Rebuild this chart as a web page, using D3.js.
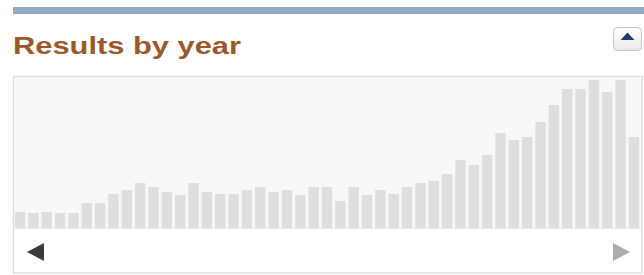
<!DOCTYPE html>
<html>
<head>
<meta charset="utf-8">
<script src="https://cdn.jsdelivr.net/npm/d3@7"></script>
<style>
  html, body { margin: 0; padding: 0; background: #fff; }
  svg { display: block; }
</style>
</head>
<body>
<svg id="chart" width="644" height="275"></svg>
<script>
// Data (years and number of results per year)
const years = d3.range(1971, 2018).map(String);
const counts = [16, 15, 16, 15, 15, 25, 25, 34, 38, 45, 41, 36, 33, 45, 36, 34, 34, 38, 41, 36,
                38, 33, 41, 41, 27, 41, 33, 38, 34, 41, 45, 47, 54, 68, 63, 73, 95, 88, 91, 106,
                123, 139, 139, 148, 136, 148, 91];
const title = "Results by year";

const svg = d3.select("#chart");

// Top blue rule
svg.append("rect").attr("x", 13).attr("y", 7).attr("width", 631).attr("height", 7).attr("fill", "#93aac6");

// Title
svg.append("text")
  .attr("x", 13).attr("y", 53.5)
  .attr("font-family", "Liberation Sans, Arial, sans-serif")
  .attr("font-weight", "bold")
  .attr("font-size", 24.5)
  .attr("fill", "#9b592b")
  .attr("textLength", 228)
  .attr("lengthAdjust", "spacingAndGlyphs")
  .text(title);

// Collapse button
const defs = svg.append("defs");
const g = defs.append("linearGradient").attr("id", "btn").attr("x1", 0).attr("y1", 0).attr("x2", 0).attr("y2", 1);
g.append("stop").attr("offset", "0").attr("stop-color", "#ffffff");
g.append("stop").attr("offset", "1").attr("stop-color", "#e9e9e9");
svg.append("rect").attr("x", 613.5).attr("y", 27.5).attr("width", 28).attr("height", 23).attr("rx", 4)
  .attr("fill", "url(#btn)").attr("stroke", "#c8c8c8");
svg.append("path").attr("d", "M620.5,40 L634.5,40 L627.5,32.5 Z").attr("fill", "#1d3d70");

// Chart box
const box = { x0: 13.5, y0: 76.5, x1: 642, y1: 273 };
svg.append("rect").attr("x", box.x0).attr("y", box.y0).attr("width", box.x1 - box.x0).attr("height", box.y1 - box.y0)
  .attr("fill", "#ffffff").attr("stroke", "#dedede").attr("stroke-width", 1.5);

const plotTop = 78, plotBottom = 228;
svg.append("rect").attr("x", 14.5).attr("y", plotTop).attr("width", 626.5).attr("height", plotBottom - plotTop)
  .attr("fill", "#f7f7f7");

const x = d3.scaleBand().domain(years).range([13.5, 640.5]).paddingInner(0.22).paddingOuter(0.1);
const y = d3.scaleLinear().domain([0, 150]).range([plotBottom, plotTop]);

svg.append("g").selectAll("rect").data(years).join("rect")
  .attr("x", d => x(d))
  .attr("width", x.bandwidth())
  .attr("y", (d, i) => y(counts[i]))
  .attr("height", (d, i) => plotBottom - y(counts[i]))
  .attr("fill", "#dedede");

svg.append("line").attr("x1", 14.5).attr("x2", 641).attr("y1", plotBottom + 0.5).attr("y2", plotBottom + 0.5)
  .attr("stroke", "#e6e6e6");

// Navigation arrows
svg.append("path").attr("d", "M27,252 L44,243 L44,261 Z").attr("fill", "#3a3a3a");
svg.append("path").attr("d", "M613,243 L613,261 L630,252 Z").attr("fill", "#ababab");
</script>
</body>
</html>
